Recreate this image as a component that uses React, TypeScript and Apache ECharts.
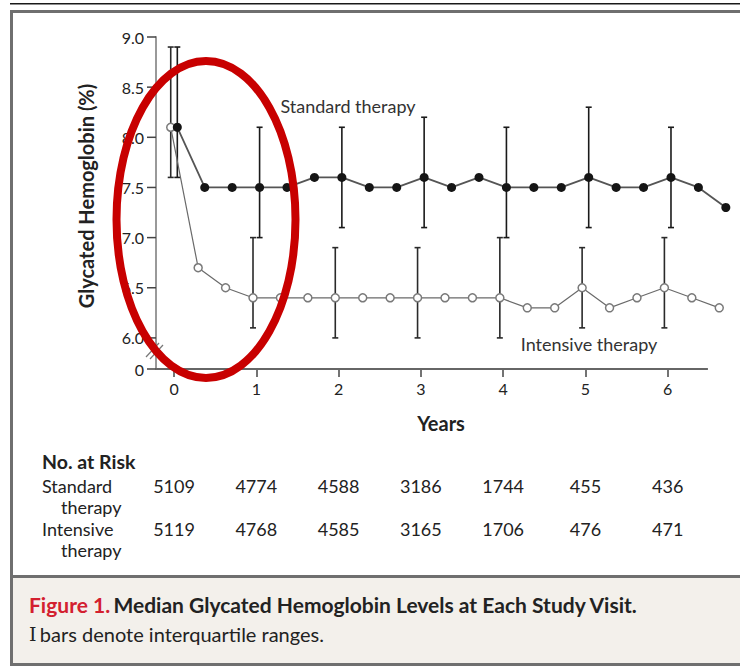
import React, { useEffect, useRef } from "react";
import * as echarts from "echarts";

// Study visits, every 4 months
const visitMonths = [0, 4, 8, 12, 16, 20, 24, 28, 32, 36, 40, 44, 48, 52, 56, 60, 64, 68, 72, 76, 80];
const standardMedian = [8.1, 7.5, 7.5, 7.5, 7.5, 7.6, 7.6, 7.5, 7.5, 7.6, 7.5, 7.6, 7.5, 7.5, 7.5, 7.6, 7.5, 7.5, 7.6, 7.5, 7.3];
const intensiveMedian = [8.1, 6.7, 6.5, 6.4, 6.4, 6.4, 6.4, 6.4, 6.4, 6.4, 6.4, 6.4, 6.4, 6.3, 6.3, 6.5, 6.3, 6.4, 6.5, 6.4, 6.3];

// Interquartile ranges at yearly visits
const iqrYears = [0, 1, 2, 3, 4, 5, 6];
const standardQ1 = [7.6, 7.0, 7.1, 7.1, 7.0, 7.1, 7.1];
const standardQ3 = [8.9, 8.1, 8.1, 8.2, 8.1, 8.3, 8.1];
const intensiveQ1 = [7.6, 6.1, 6.0, 6.0, 6.0, 6.1, 6.1];
const intensiveQ3 = [8.9, 7.0, 6.9, 6.9, 7.0, 6.9, 7.0];

// Axis ticks
const yearTicks = [0, 1, 2, 3, 4, 5, 6];
const hbTicks = [6.0, 6.5, 7.0, 7.5, 8.0, 8.5, 9.0];

// Number at risk
const riskYears = [0, 1, 2, 3, 4, 5, 6];
const standardAtRisk = [5109, 4774, 4588, 3186, 1744, 455, 436];
const intensiveAtRisk = [5119, 4768, 4585, 3165, 1706, 476, 471];

// The y axis is broken between 0 and 6.0; "0" sits at this axis value
const ZERO_POS = 5.69;
// Horizontal shift that keeps the two groups from overlapping
const GROUP_SHIFT = 0.04;
// Drawn extent of the x axis line (the last visit lies past it)
const X_MIN = -0.219;
const X_LINE_END = 6.489;
const X_MAX = 6.75;

const FONT = "Lato";
const INK = "#222";

function errorBars(color: string) {
  return (params: any, api: any) => {
    const x = api.value(0);
    const lo = api.coord([x, api.value(1)]);
    const hi = api.coord([x, api.value(2)]);
    const cap = 3;
    const style = { stroke: color, lineWidth: 1.6 };
    return {
      type: "group",
      children: [
        { type: "line", shape: { x1: lo[0], y1: lo[1], x2: hi[0], y2: hi[1] }, style },
        { type: "line", shape: { x1: lo[0] - cap, y1: lo[1], x2: lo[0] + cap, y2: lo[1] }, style },
        { type: "line", shape: { x1: hi[0] - cap, y1: hi[1], x2: hi[0] + cap, y2: hi[1] }, style },
      ],
    };
  };
}

export default function App() {
  const ref = useRef<HTMLDivElement>(null);

  useEffect(() => {
    if (!ref.current) return;
    const chart = echarts.init(ref.current, undefined, { renderer: "svg" });

    chart.setOption({
      animation: false,
      backgroundColor: "#fff",
      textStyle: { fontFamily: FONT },
      grid: { left: 156, right: 10.6, top: 37, bottom: 297 },
      xAxis: {
        type: "value",
        min: X_MIN,
        max: X_MAX,
        splitLine: { show: false },
        axisLine: { show: false },
        axisTick: { customValues: yearTicks, length: 8, lineStyle: { color: "#444", width: 1.5 } },
        axisLabel: {
          customValues: yearTicks,
          margin: 11,
          color: INK,
          fontFamily: FONT,
          fontSize: 16,
          formatter: (v: number) => String(Math.round(v)),
        },
      },
      yAxis: {
        type: "value",
        min: ZERO_POS,
        max: 9.0,
        splitLine: { show: false },
        axisLine: { show: true, onZero: false, lineStyle: { color: "#999", width: 2 } },
        axisTick: { show: false },
        axisLabel: {
          customValues: [ZERO_POS, ...hbTicks],
          margin: 12,
          color: INK,
          fontFamily: FONT,
          fontSize: 16,
          formatter: (v: number) => (v < 6 ? "0" : v.toFixed(1)),
        },
      },
      series: [
        {
          name: "Standard IQR",
          type: "custom",
          renderItem: errorBars("#1a1a1a"),
          data: iqrYears.map((y, i) => [y + GROUP_SHIFT, standardQ1[i], standardQ3[i]]),
          z: 1,
        },
        {
          name: "Intensive IQR",
          type: "custom",
          renderItem: errorBars("#2a2a2a"),
          data: iqrYears.map((y, i) => [y - GROUP_SHIFT, intensiveQ1[i], intensiveQ3[i]]),
          z: 1,
        },
        {
          name: "Intensive therapy",
          type: "line",
          clip: false,
          symbol: "circle",
          symbolSize: 8,
          itemStyle: { color: "#fff", borderColor: "#7a7a7a", borderWidth: 1.5 },
          lineStyle: { color: "#6a6a6a", width: 1.2 },
          data: visitMonths.map((m, i) => [m / 12 - GROUP_SHIFT, intensiveMedian[i]]),
          z: 3,
        },
        {
          name: "Standard therapy",
          type: "line",
          clip: false,
          symbol: "circle",
          symbolSize: 9,
          itemStyle: { color: "#151515" },
          lineStyle: { color: "#555", width: 1.8 },
          data: visitMonths.map((m, i) => [m / 12 + GROUP_SHIFT, standardMedian[i]]),
          z: 4,
        },
      ],
    });

    const px = (year: number) => chart.convertToPixel({ xAxisIndex: 0 }, year) as number;
    const py = (v: number) => chart.convertToPixel({ yAxisIndex: 0 }, v) as number;
    const axisX = px(X_MIN);
    const axisY = py(ZERO_POS);

    const tableText = (text: string, x: number, y: number, opts: any = {}) => ({
      type: "text",
      x,
      y,
      z: 10,
      style: {
        text,
        fill: INK,
        font: `${opts.bold ? "bold " : ""}${opts.size || 18}px ${FONT}`,
        align: opts.align || "left",
        verticalAlign: "middle",
      },
    });

    const graphics: any[] = [
      // page frame
      { type: "rect", shape: { x: 10, y: 3, width: 730, height: 1.5 }, style: { fill: "#1a1a1a" }, z: 0 },
      { type: "rect", shape: { x: 13, y: 578, width: 727, height: 85 }, style: { fill: "#f3f0eb" }, z: 0 },
      { type: "rect", shape: { x: 10, y: 10, width: 3, height: 656 }, style: { fill: "#6f6f6f" }, z: 0 },
      { type: "rect", shape: { x: 10, y: 10, width: 730, height: 3 }, style: { fill: "#6f6f6f" }, z: 0 },
      { type: "rect", shape: { x: 10, y: 575, width: 730, height: 3 }, style: { fill: "#6f6f6f" }, z: 0 },
      { type: "rect", shape: { x: 10, y: 663, width: 730, height: 3 }, style: { fill: "#6f6f6f" }, z: 0 },

      // x axis line, ending before the final visit
      {
        type: "line",
        shape: { x1: axisX, y1: axisY, x2: px(X_LINE_END), y2: axisY },
        style: { stroke: "#666", lineWidth: 2 },
        z: 2,
      },

      // y axis ticks, pointing outward
      ...[ZERO_POS, ...hbTicks].map((v) => ({
        type: "line",
        shape: { x1: axisX - 9, y1: py(v), x2: axisX, y2: py(v) },
        style: { stroke: "#444", lineWidth: 1.5 },
        z: 2,
      })),

      // axis break marks
      { type: "line", shape: { x1: 146, y1: 357, x2: 159, y2: 343 }, style: { stroke: "#777", lineWidth: 1.2 }, z: 10 },
      { type: "line", shape: { x1: 150, y1: 359, x2: 163, y2: 345 }, style: { stroke: "#777", lineWidth: 1.2 }, z: 10 },

      // axis titles
      {
        type: "text",
        x: 86,
        y: 196,
        rotation: Math.PI / 2,
        z: 10,
        style: { text: "Glycated Hemoglobin (%)", fill: INK, font: `bold 20px ${FONT}`, align: "center", verticalAlign: "middle" },
      },
      {
        type: "text",
        x: 441,
        y: 423,
        z: 10,
        style: { text: "Years", fill: INK, font: `bold 20px ${FONT}`, align: "center", verticalAlign: "middle" },
      },

      // series labels
      { type: "text", x: 348, y: 106, z: 10, style: { text: "Standard therapy", fill: "#333", font: `18px ${FONT}`, align: "center", verticalAlign: "middle" } },
      { type: "text", x: 589, y: 344, z: 10, style: { text: "Intensive therapy", fill: "#333", font: `18px ${FONT}`, align: "center", verticalAlign: "middle" } },

      // number at risk
      tableText("No. at Risk", 42, 461, { bold: true, size: 19.5 }),
      tableText("Standard", 42, 486),
      tableText("therapy", 61, 507),
      tableText("Intensive", 42, 529),
      tableText("therapy", 61, 550),
      ...riskYears.map((y, i) => tableText(String(standardAtRisk[i]), px(y), 486, { align: "center" })),
      ...riskYears.map((y, i) => tableText(String(intensiveAtRisk[i]), px(y), 529, { align: "center" })),

      // caption
      {
        type: "text",
        x: 29,
        y: 604,
        z: 10,
        style: {
          text: "{r|Figure 1.} {b|Median Glycated Hemoglobin Levels at Each Study Visit.}",
          verticalAlign: "middle",
          rich: {
            r: { fill: "#d3202f", font: `bold 21px ${FONT}` },
            b: { fill: "#222", font: `bold 21px ${FONT}` },
          },
        },
      },
      {
        type: "text",
        x: 29,
        y: 634,
        z: 10,
        style: {
          text: "{s|I} {t|bars denote interquartile ranges.}",
          verticalAlign: "middle",
          rich: {
            s: { fill: "#222", font: `19px "DejaVu Serif"` },
            t: { fill: "#222", font: `20px ${FONT}` },
          },
        },
      },

      // highlight ellipse
      {
        type: "ellipse",
        shape: { cx: 206, cy: 219.5, rx: 89.5, ry: 158.5 },
        style: { fill: "none", stroke: "#c80000", lineWidth: 8 },
        z: 20,
      },
    ];

    chart.setOption({ graphic: graphics });

    return () => chart.dispose();
  }, []);

  return (
    <div
      ref={ref}
      style={{ position: "absolute", left: 0, top: 0, width: 740, height: 666, background: "#fff" }}
    />
  );
}
